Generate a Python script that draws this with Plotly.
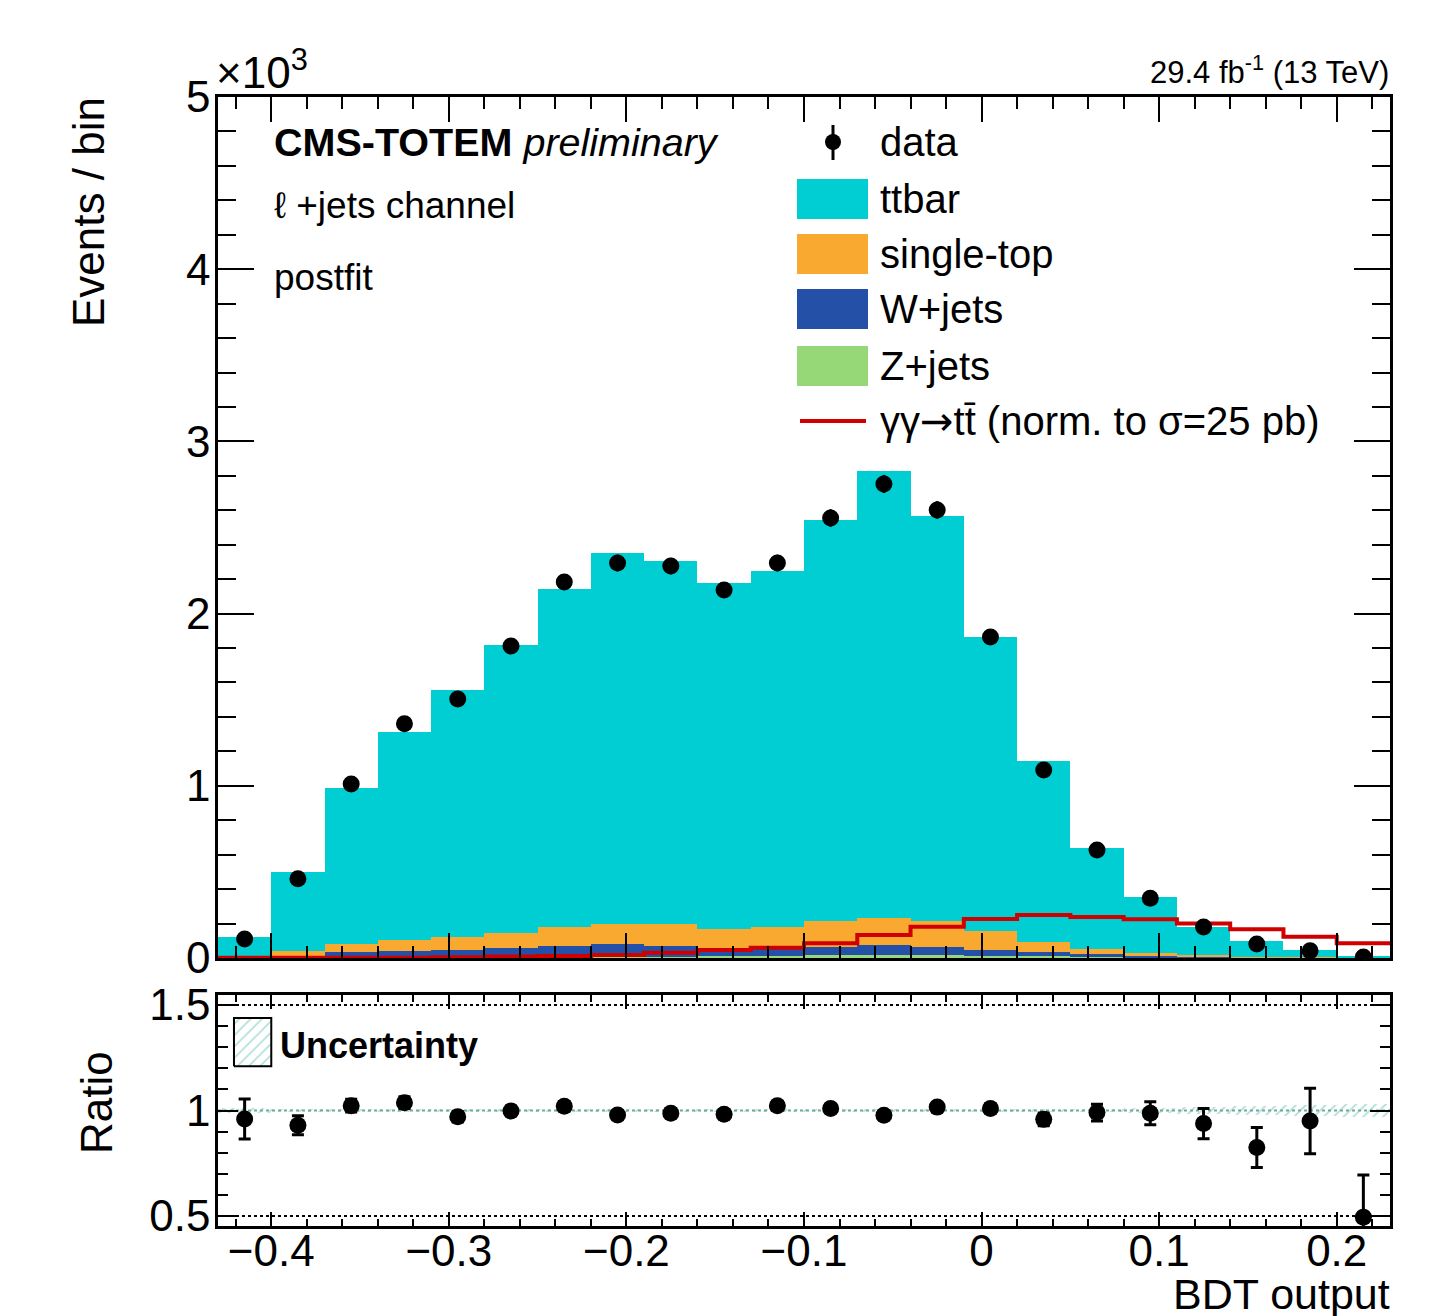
import numpy as np
import plotly.graph_objects as go

# ---------------- data ----------------
bin_edges = [-0.43, -0.40, -0.37, -0.34, -0.31, -0.28, -0.25, -0.22, -0.19, -0.16, -0.13,
             -0.10, -0.07, -0.04, -0.01, 0.02, 0.05, 0.08, 0.11, 0.14, 0.17, 0.20, 0.23]

zjets     = [1, 2, 3, 4, 5, 6, 7, 8, 8, 10, 12, 15, 16, 15, 12, 9, 6, 3, 2, 1, 0.5, 0.2]
wjets     = [4, 10, 30, 38, 41, 50, 63, 72, 62, 46, 58, 51, 59, 51, 34, 24, 19, 9, 4, 2, 0.5, 0.3]
singletop = [7, 30, 47, 63, 74, 89, 108, 116, 126, 112, 112, 151, 159, 151, 111, 62, 27, 19, 11, 5, 2, 0.5]
ttbar     = [108, 458, 907, 1207, 1436, 1673, 1965, 2156, 2109, 2010, 2065, 2327, 2594, 2350,
             1707, 1049, 587, 325, 165, 92, 41, 11]
data      = [110, 460, 1010, 1360, 1504, 1812, 2183, 2294, 2276, 2137, 2294, 2555, 2753, 2602,
             1864, 1092, 627, 347, 180, 81, 42, 6]
signal    = [2, 2, 2, 2, 5, 8, 12, 17, 30, 46, 60, 85, 134, 182, 226, 250, 238, 225, 201, 167, 124, 85]

ratio     = [0.96, 0.93, 1.023, 1.037, 0.97, 0.998, 1.02, 0.979, 0.987, 0.982, 1.023, 1.009, 0.977,
             1.016, 1.01, 0.958, 0.99, 0.987, 0.938, 0.825, 0.95, 0.495]
ratio_err = [0.095, 0.045, 0.03, 0.028, 0.025, 0.023, 0.022, 0.02, 0.021, 0.021, 0.021, 0.02, 0.019,
             0.02, 0.023, 0.03, 0.04, 0.055, 0.072, 0.095, 0.155, 0.2]
ratio_unc = [0.01, 0.006, 0.005, 0.005, 0.005, 0.005, 0.005, 0.005, 0.005, 0.005, 0.005, 0.005, 0.005,
             0.005, 0.005, 0.006, 0.008, 0.01, 0.015, 0.02, 0.025, 0.03]

y_tickvals = [0, 1000, 2000, 3000, 4000, 5000]
y_ticktext = ["0", "1", "2", "3", "4", "5"]
r_tickvals = [0.5, 1.0, 1.5]
r_ticktext = ["0.5", "1", "1.5"]
x_tickvals = [-0.4, -0.3, -0.2, -0.1, 0, 0.1, 0.2]
x_ticktext = ["\u22120.4", "\u22120.3", "\u22120.2", "\u22120.1", "0", "0.1", "0.2"]

# ---------------- styling ----------------
FONT = "Liberation Sans, Arial, Helvetica, sans-serif"
C_TT = "#00CED3"
C_ST = "#F9A830"
C_W = "#2450A8"
C_Z = "#96D878"
C_SIG = "#D10000"

edges = np.array(bin_edges)
centers = 0.5 * (edges[:-1] + edges[1:])
widths = edges[1:] - edges[:-1]

OFF = 8                      # page body margin of the html page
W, H = 1438 - OFF, 1316 - OFF
L, R, T, B = 218, 1390, 97, 1226  # plot-area box, in page pixels


def px(p):
    return (p - L) / (R - L)


def py(p):
    return (B - p) / (B - T)


fig = go.Figure()

for vals, col, name in [(zjets, C_Z, "Z+jets"), (wjets, C_W, "W+jets"),
                        (singletop, C_ST, "single-top"), (ttbar, C_TT, "ttbar")]:
    fig.add_trace(go.Bar(x=centers, y=vals, width=widths, marker=dict(color=col, line=dict(width=0)),
                         name=name, xaxis="x", yaxis="y", showlegend=False))

fig.add_trace(go.Scatter(x=edges, y=list(signal) + [signal[-1]], mode="lines",
                         line=dict(color=C_SIG, width=4, shape="hv"),
                         xaxis="x", yaxis="y", showlegend=False))

fig.add_trace(go.Scatter(x=centers, y=data, mode="markers",
                         marker=dict(color="black", size=17),
                         error_y=dict(type="data", array=np.sqrt(np.array(data)), color="black",
                                      thickness=3, width=0),
                         xaxis="x", yaxis="y", showlegend=False))

# ratio panel: uncertainty band (hatched)
unc = np.array(ratio_unc)
fig.add_trace(go.Bar(x=centers, y=2 * unc, base=1 - unc, width=widths,
                     marker=dict(color="rgba(0,0,0,0)", line=dict(width=0),
                                 pattern=dict(shape="/", fgcolor="#5DBFAE", bgcolor="rgba(0,0,0,0)",
                                              size=7, solidity=0.25)),
                     xaxis="x2", yaxis="y2", showlegend=False))

fig.add_trace(go.Scatter(x=[edges[0], edges[-1]], y=[1, 1], mode="lines",
                         line=dict(color="#6FA89C", width=2, dash="dot"),
                         xaxis="x2", yaxis="y2", showlegend=False))
for yv in (0.5, 1.5):
    fig.add_trace(go.Scatter(x=[edges[0], edges[-1]], y=[yv, yv], mode="lines",
                             line=dict(color="black", width=2, dash="dot"),
                             xaxis="x2", yaxis="y2", showlegend=False))

fig.add_trace(go.Scatter(x=centers, y=ratio, mode="markers",
                         marker=dict(color="black", size=17),
                         error_y=dict(type="data", array=ratio_err, color="black", thickness=3, width=6),
                         xaxis="x2", yaxis="y2", showlegend=False, cliponaxis=False))

# hatched legend swatch for "Uncertainty"
fig.add_trace(go.Scatter(x=[-0.421, -0.400, -0.400, -0.421, -0.421], y=[1.21, 1.21, 1.438, 1.438, 1.21],
                         mode="lines", fill="toself", fillcolor="rgba(0,0,0,0)",
                         fillpattern=dict(shape="/", fgcolor="#5DBFAE", size=8, solidity=0.2),
                         line=dict(color="black", width=2),
                         xaxis="x2", yaxis="y2", showlegend=False))

dom_main = [py(958), 1.0]
dom_ratio = [0.0, py(995)]

axis_common = dict(showline=True, linecolor="black", linewidth=2.5, mirror="allticks",
                   ticks="inside", tickcolor="black", showgrid=False, zeroline=False,
                   tickfont=dict(family=FONT, size=44, color="black"))

fig.update_layout(
    width=W, height=H,
    margin=dict(l=L - OFF, r=W - (R - OFF), t=T - OFF, b=H - (B - OFF), pad=0),
    paper_bgcolor="white", plot_bgcolor="white",
    barmode="stack", bargap=0,
    showlegend=False,
    font=dict(family=FONT, color="black"),
    xaxis=dict(domain=[0, 1], anchor="y", range=[edges[0], edges[-1]], matches="x2",
               tickvals=x_tickvals, ticklen=25, tickwidth=2, showticklabels=False,
               minor=dict(dtick=0.02, tick0=0, ticks="inside", ticklen=12, tickwidth=2, tickcolor="black"),
               **axis_common),
    yaxis=dict(domain=dom_main, anchor="x", range=[0, 5000],
               tickvals=y_tickvals, ticktext=y_ticktext, ticklen=36, tickwidth=2, ticklabelstandoff=-4,
               minor=dict(dtick=200, tick0=0, ticks="inside", ticklen=18, tickwidth=2, tickcolor="black"),
               **axis_common),
    xaxis2=dict(domain=[0, 1], anchor="y2", range=[edges[0], edges[-1]],
                tickvals=x_tickvals, ticktext=x_ticktext, ticklen=14, tickwidth=2, ticklabelstandoff=-16,
                minor=dict(dtick=0.02, tick0=0, ticks="inside", ticklen=7, tickwidth=2, tickcolor="black"),
                **axis_common),
    yaxis2=dict(domain=dom_ratio, anchor="x2", range=[0.453, 1.547],
                tickvals=r_tickvals, ticktext=r_ticktext, ticklen=20, tickwidth=2, ticklabelstandoff=-4,
                minor=dict(dtick=0.1, tick0=0, ticks="inside", ticklen=10, tickwidth=2, tickcolor="black"),
                **axis_common),
)

ann = []


def add_text(text, x, y, size, xanchor="left", yanchor="middle", angle=0):
    ann.append(dict(text=text, x=x, y=y, xref="paper", yref="paper", showarrow=False,
                    xanchor=xanchor, yanchor=yanchor, textangle=angle,
                    font=dict(family=FONT, size=size, color="black")))


add_text("Events / bin", px(88), py(95), 44, xanchor="center", yanchor="top", angle=-90)
add_text("Ratio", px(96), py(1103), 44, xanchor="center", yanchor="middle", angle=-90)
add_text("BDT output", px(1392), py(1294), 43, xanchor="right")
add_text("\u00d710<sup>3</sup>", px(214), py(70), 44)
add_text("29.4 fb<sup>-1</sup> (13 TeV)", px(1391), py(70), 31, xanchor="right")
add_text("<b>CMS-TOTEM</b> <i>preliminary</i>", px(272), py(142), 39.5)
add_text("\u2113 +jets channel", px(272), py(205), 37)
add_text("postfit", px(272), py(277), 37)
add_text("<b>Uncertainty</b>", px(278), py(1045), 36)

# legend (upper panel)
leg_x0, leg_x1, leg_tx = 797, 868, 878
shapes = []
for yc, col in [(199, C_TT), (254, C_ST), (309, C_W), (366, C_Z)]:
    shapes.append(dict(type="rect", xref="paper", yref="paper", x0=px(leg_x0), x1=px(leg_x1),
                       y0=py(yc + 20), y1=py(yc - 20), fillcolor=col, line=dict(width=0)))
shapes.append(dict(type="line", xref="paper", yref="paper", x0=px(800), x1=px(866),
                   y0=py(421), y1=py(421), line=dict(color=C_SIG, width=4)))
shapes.append(dict(type="line", xref="paper", yref="paper", x0=px(833), x1=px(833),
                   y0=py(125), y1=py(160), line=dict(color="black", width=3)))
shapes.append(dict(type="circle", xref="paper", yref="paper", x0=px(825), x1=px(841),
                   y0=py(150), y1=py(134), fillcolor="black", line=dict(width=0)))

arrow = "<span style=\"font-family:'DejaVu Sans'\">\u2192</span>"
for yc, txt in [(142, "data"), (199, "ttbar"), (254, "single-top"), (309, "W+jets"),
                (366, "Z+jets"), (421, "\u03b3\u03b3" + arrow + "tt\u0304 (norm. to \u03c3=25 pb)")]:
    add_text(txt, px(leg_tx), py(yc), 40)

fig.update_layout(annotations=ann, shapes=shapes)

fig.write_html("out.html")
